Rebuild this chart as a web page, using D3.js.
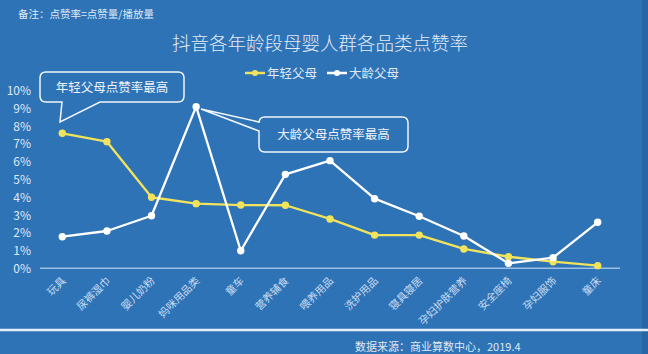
<!DOCTYPE html>
<html>
<head>
<meta charset="utf-8">
<script src="https://cdn.jsdelivr.net/npm/d3@7"></script>
<style>
  html, body { margin: 0; padding: 0; background: #2f73b7; }
  svg text { font-family: "Noto Sans CJK SC", "Noto Sans", sans-serif; }
</style>
</head>
<body>
<div id="chart"></div>
<script>
const categories = ["玩具", "尿裤湿巾", "婴儿奶粉", "妈咪用品类", "童车", "营养辅食", "喂养用品",
  "洗护用品", "寝具寝居", "孕妇护肤营养", "安全座椅", "孕妇服饰", "童床"];
const youngParents = [7.6, 7.13, 4.0, 3.64, 3.56, 3.55, 2.78, 1.87, 1.87, 1.09, 0.65, 0.37, 0.15];
const olderParents = [1.78, 2.1, 2.96, 9.1, 0.99, 5.29, 6.06, 3.92, 2.93, 1.82, 0.28, 0.6, 2.59];
const yTicks = [0, 1, 2, 3, 4, 5, 6, 7, 8, 9, 10];
const seriesNames = ["年轻父母", "大龄父母"];

function drawChart () {
  const svgWidth = 648;
  const svgHeight = 354;
  const bg = "#2f73b7";
  const textColor = "#dfe9f4";

  const svg = d3.select("#chart")
    .append("svg")
    .attr("width", svgWidth)
    .attr("height", svgHeight);

  svg.append("rect")
    .attr("width", svgWidth)
    .attr("height", svgHeight)
    .attr("fill", bg);

  // darker strip at right edge
  svg.append("rect")
    .attr("x", 642).attr("y", 0)
    .attr("width", 6).attr("height", svgHeight)
    .attr("fill", "#2a66a3");

  // note
  svg.append("text")
    .attr("x", 18).attr("y", 18)
    .attr("fill", textColor)
    .style("font-size", "10.5px")
    .text("备注：点赞率=点赞量/播放量");

  // title
  svg.append("text")
    .attr("x", 320).attr("y", 50)
    .attr("text-anchor", "middle")
    .attr("fill", "#e3ebf5")
    .style("font-size", "18.5px")
    .style("font-weight", 300)
    .text("抖音各年龄段母婴人群各品类点赞率");

  // scales
  const x = d3.scalePoint().domain(categories).range([40, 620]).padding(0.5);
  const y = d3.scaleLinear().domain([0, 10]).range([268.3, 90.7]);

  // y labels
  svg.selectAll(".ylab")
    .data(yTicks)
    .enter()
    .append("text")
    .attr("x", 31)
    .attr("y", d => y(d) + 4.5)
    .attr("text-anchor", "end")
    .attr("fill", textColor)
    .style("font-size", "12px")
    .text(d => d + "%");

  // x axis line
  svg.append("line")
    .attr("x1", 40).attr("x2", 620)
    .attr("y1", y(0)).attr("y2", y(0))
    .attr("stroke", "#9cc0e4")
    .attr("stroke-width", 1.5);

  // x labels
  svg.selectAll(".xlab")
    .data(categories)
    .enter()
    .append("text")
    .attr("transform", d => `translate(${x(d) + 4}, ${y(0) + 13}) rotate(-45)`)
    .attr("text-anchor", "end")
    .attr("fill", "#c9dcf0")
    .style("font-size", "10.5px")
    .text(d => d);

  const line = d3.line()
    .x((d, i) => x(categories[i]))
    .y(d => y(d));

  const series = [
    { name: seriesNames[0], values: youngParents, color: "#f1e35b" },
    { name: seriesNames[1], values: olderParents, color: "#ffffff" }
  ];

  series.forEach(s => {
    svg.append("path")
      .datum(s.values)
      .attr("d", line)
      .attr("fill", "none")
      .attr("stroke", s.color)
      .attr("stroke-width", 2.3)
      .attr("stroke-linejoin", "round");
    svg.selectAll(null)
      .data(s.values)
      .enter()
      .append("circle")
      .attr("cx", (d, i) => x(categories[i]))
      .attr("cy", d => y(d))
      .attr("r", 3.7)
      .attr("fill", s.color);
  });

  // legend
  const legendX = [245, 327];
  series.forEach((s, i) => {
    const lx = legendX[i];
    svg.append("line")
      .attr("x1", lx).attr("x2", lx + 20)
      .attr("y1", 73).attr("y2", 73)
      .attr("stroke", s.color).attr("stroke-width", 2.5);
    svg.append("circle")
      .attr("cx", lx + 10).attr("cy", 73).attr("r", 3)
      .attr("fill", s.color);
    svg.append("text")
      .attr("x", lx + 22).attr("y", 77.5)
      .attr("fill", textColor)
      .style("font-size", "12.5px")
      .text(s.name);
  });

  // callout 1 (young parents)
  const c1 = { x0: 40, y0: 72, x1: 184, y1: 102, r: 6 };
  const tip1 = [60, 122];
  svg.append("path")
    .attr("d", `M${c1.x0 + c1.r},${c1.y0} H${c1.x1 - c1.r} Q${c1.x1},${c1.y0} ${c1.x1},${c1.y0 + c1.r}
      V${c1.y1 - c1.r} Q${c1.x1},${c1.y1} ${c1.x1 - c1.r},${c1.y1} H100 L${tip1[0]},${tip1[1]} L62,${c1.y1}
      H${c1.x0 + c1.r} Q${c1.x0},${c1.y1} ${c1.x0},${c1.y1 - c1.r} V${c1.y0 + c1.r} Q${c1.x0},${c1.y0} ${c1.x0 + c1.r},${c1.y0} Z`)
    .attr("fill", bg)
    .attr("stroke", "#f2f6fb")
    .attr("stroke-width", 1.5);
  svg.append("text")
    .attr("x", (c1.x0 + c1.x1) / 2).attr("y", 91.5)
    .attr("text-anchor", "middle")
    .attr("fill", "#eef3f9")
    .style("font-size", "12.5px")
    .text("年轻父母点赞率最高");

  // callout 2 (older parents)
  const c2 = { x0: 259, y0: 117, x1: 408, y1: 152, r: 6 };
  const tip2 = [201, 109];
  svg.append("path")
    .attr("d", `M${c2.x0 + c2.r},${c2.y0} H${c2.x1 - c2.r} Q${c2.x1},${c2.y0} ${c2.x1},${c2.y0 + c2.r}
      V${c2.y1 - c2.r} Q${c2.x1},${c2.y1} ${c2.x1 - c2.r},${c2.y1} H${c2.x0 + c2.r}
      Q${c2.x0},${c2.y1} ${c2.x0},${c2.y1 - c2.r} V131 L${tip2[0]},${tip2[1]} L${c2.x0},122
      V${c2.y0 + c2.r} Q${c2.x0},${c2.y0} ${c2.x0 + c2.r},${c2.y0} Z`)
    .attr("fill", bg)
    .attr("stroke", "#f2f6fb")
    .attr("stroke-width", 1.5);
  svg.append("text")
    .attr("x", (c2.x0 + c2.x1) / 2).attr("y", 138.5)
    .attr("text-anchor", "middle")
    .attr("fill", "#eef3f9")
    .style("font-size", "12.5px")
    .text("大龄父母点赞率最高");

  // footer separator and source
  svg.append("line")
    .attr("x1", 0).attr("x2", svgWidth)
    .attr("y1", 330).attr("y2", 330)
    .attr("stroke", "#e6eef7")
    .attr("stroke-width", 2.5);
  svg.append("text")
    .attr("x", 355).attr("y", 351)
    .attr("fill", textColor)
    .style("font-size", "11px")
    .text("数据来源：商业算数中心，2019.4");
}

drawChart();
</script>
</body>
</html>
